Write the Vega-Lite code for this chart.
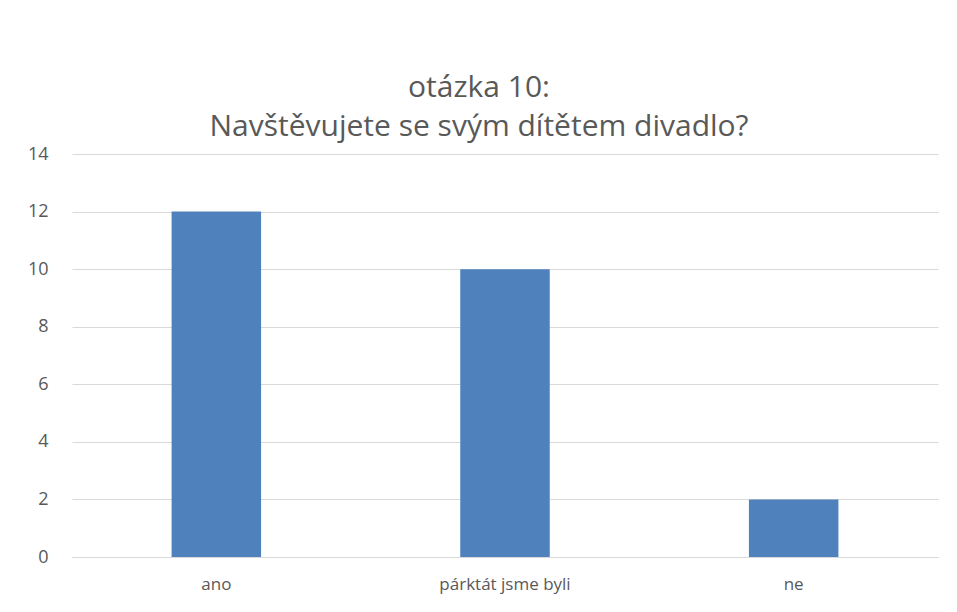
{
  "$schema": "https://vega.github.io/schema/vega-lite/v6.json",
  "autosize": "none",
  "width": 866,
  "height": 403,
  "padding": {"left": 72, "top": 154, "right": 19, "bottom": 55},
  "background": "white",
  "title": {
    "text": ["otázka 10:", "Navštěvujete se svým dítětem divadlo?"],
    "anchor": "middle",
    "frame": "group",
    "dx": -26,
    "offset": 3,
    "font": "Open Sans",
    "fontSize": 30,
    "fontWeight": "normal",
    "color": "#595959",
    "lineHeight": 39
  },
  "data": {
    "values": [
      {"kategorie": "ano", "pocet": 12},
      {"kategorie": "párktát jsme byli", "pocet": 10},
      {"kategorie": "ne", "pocet": 2}
    ]
  },
  "mark": {"type": "bar", "color": "#4F81BD"},
  "encoding": {
    "x": {
      "field": "kategorie",
      "type": "nominal",
      "sort": null,
      "scale": {"paddingInner": 0.69, "paddingOuter": 0.345},
      "axis": {
        "title": null,
        "labelAngle": 0,
        "ticks": false,
        "domain": true,
        "domainColor": "#D9D9D9",
        "labelFont": "Open Sans",
        "labelFontSize": 17,
        "labelColor": "#595959",
        "labelPadding": 19
      }
    },
    "y": {
      "field": "pocet",
      "type": "quantitative",
      "scale": {"domain": [0, 14]},
      "axis": {
        "title": null,
        "values": [0, 2, 4, 6, 8, 10, 12, 14],
        "ticks": false,
        "domain": false,
        "gridColor": "#D9D9D9",
        "labelFont": "Open Sans",
        "labelFontSize": 18,
        "labelColor": "#595959",
        "labelPadding": 24
      }
    }
  },
  "config": {"view": {"stroke": null}}
}
